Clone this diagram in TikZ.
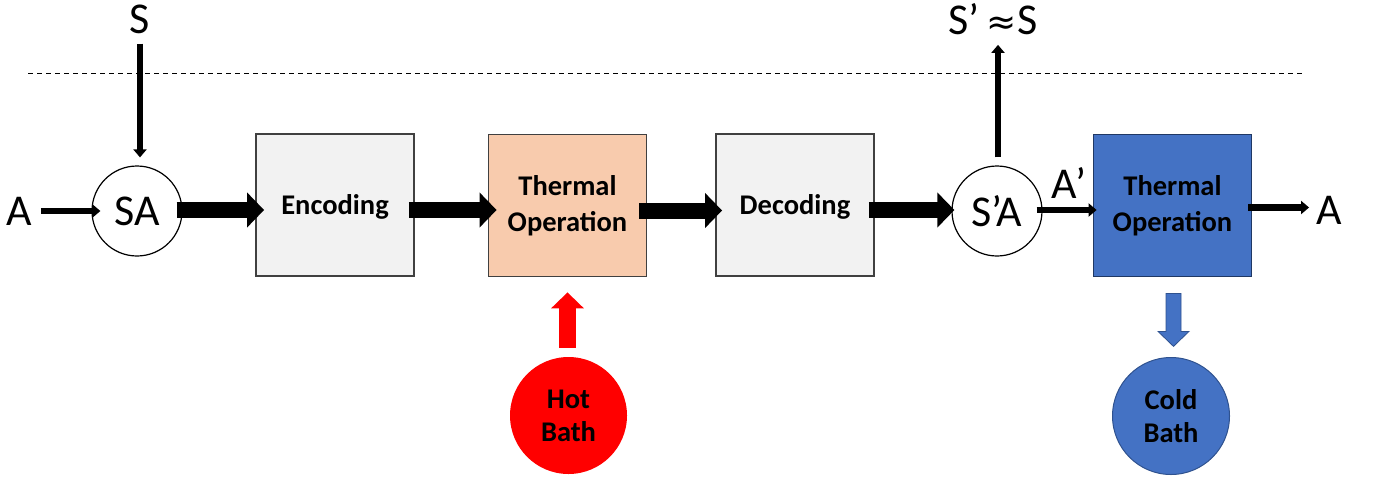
\documentclass[tikz,border=0pt]{standalone}
\usepackage{fontspec}
\setmainfont{Carlito}
\newfontfamily\symfont{DejaVu Sans}
\usetikzlibrary{arrows.meta,calc}
\definecolor{boxgray}{HTML}{F2F2F2}
\definecolor{peach}{HTML}{F8CBAD}
\definecolor{cblue}{HTML}{4472C4}
\definecolor{cbluedark}{HTML}{2F528F}
\definecolor{navyedge}{HTML}{203864}
\definecolor{edge}{HTML}{404040}
\begin{document}
\begin{tikzpicture}[x=1pt,y=-1pt,
  lbl/.style={font=\fontsize{44}{50}\selectfont, inner sep=0pt},
  blk/.style={draw=edge, line width=1.8pt, minimum width=158pt, minimum height=142pt,
    inner sep=0pt, align=center, font=\fontsize{28.5}{35.5}\selectfont\bfseries},
  onel/.style={text height=24pt, text depth=6pt},
  mix/.style={circle, draw=black, line width=1.2pt, fill=white, minimum size=90pt,
    inner sep=0pt, font=\fontsize{44}{50}\selectfont},
  bath/.style={circle, minimum size=117pt, inner sep=0pt, align=center,
    font=\fontsize{28.5}{33}\selectfont\bfseries},
  bigarr/.style={line width=16pt, -{Triangle[width=34pt,length=17pt]}},
  smarr/.style={line width=6.5pt, -{Triangle[width=13pt,length=8pt]}},
  sep/.style={dashed, dash pattern=on 5pt off 4pt, line width=0.9pt}
]
\useasboundingbox (0,0) rectangle (1374,483);

% separator line
\coordinate (dl) at (28,73);
\coordinate (dr) at (1305,73);
\draw[sep] (dl) -- (dr);

% labels
\node[lbl] (S) at (140,19) {S};
\node[lbl] (Sout) at (993,19) {S’\,{\symfont\fontsize{36}{40}\selectfont ≈}S};
\node[lbl] (Ain) at (19,211) {A};
\node[lbl] (Apr) at (1069,183) {A’};
\node[lbl] (Aout) at (1329,210) {A};

% circles
\node[mix] (SA) at (137,211) {SA};
\node[mix] (SpA) at (997,211) {S’A};

% boxes
\node[blk, onel, fill=boxgray] (enc) at (335,205) {Encoding};
\node[blk, fill=peach] (th) at (567.5,205.5) {Thermal\\Operation};
\node[blk, onel, fill=boxgray] (dec) at (795,205) {Decoding};
\node[blk, fill=cblue, draw=navyedge] (cop) at (1172.5,205.5) {Thermal\\Operation};

% baths
\node[bath, fill=red] (hot) at (568.5,415.5) {Hot\\Bath};
\node[bath, fill=cblue, draw=cbluedark, line width=1pt] (cold) at (1171,416) {Cold\\Bath};

% small arrows
\draw[smarr] ($(S.south)+(0,10)$) -- ($(S.south |- SA.north)+(0,-8)$);
\draw[smarr] ($(Ain.east)+(9,0)$) -- ($(SA.west)+(9,0)$);
\draw[smarr] ($(SpA.north)+(1,-8)$) -- ($(SpA.north |- Sout.south)+(1,10)$);
\draw[smarr] ($(SpA.east)+(-6,-1)$) -- ($(cop.west |- SpA.east)+(4,-1)$);
\draw[smarr] ($(cop.east)+(-4,2)$) -- ($(Aout.west |- cop.east)+(-7,2)$);

% big arrows
\draw[bigarr] ($(SA.east)+(-6,-1)$) -- ($(enc.west |- SA.east)+(9,-1)$);
\draw[bigarr] ($(enc.east)+(-6,5)$) -- ($(th.west |- enc.east)+(9,5)$);
\draw[bigarr] ($(th.east)+(-8,5)$) -- ($(dec.west |- th.east)+(7,5)$);
\draw[bigarr] ($(dec.east)+(-6,5)$) -- ($(SpA.west |- dec.east)+(3,5)$);

% hot bath arrow (up)
\draw[red, line width=17pt, -{Triangle[width=32pt,length=16pt]}]
  ($(hot.north)+(-1,-9)$) -- ($(th.south)+(0,15)$);

% cold bath arrow (down)
\coordinate (cstart) at ($(cop.south)+(1,16)$);
\draw[cbluedark, fill=cblue, line width=0.8pt]
  ($(cstart)+(-7.5,0)$) -- ++(15,0) -- ++(0,38) -- ++(8,0) -- ++(-15.5,15)
  -- ++(-15.5,-15) -- ++(8,0) -- cycle;
\end{tikzpicture}
\end{document}
